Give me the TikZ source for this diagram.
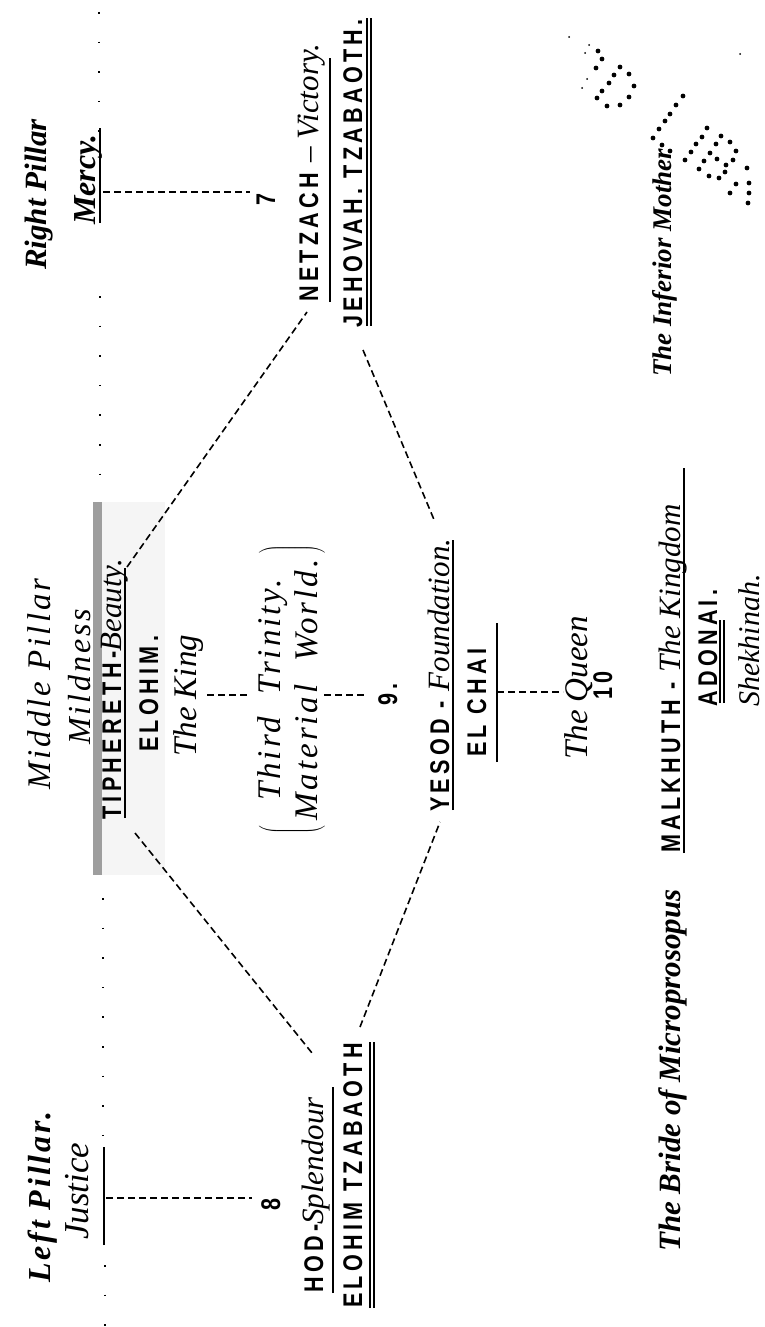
\documentclass[tikz,border=0pt]{standalone}
\usepackage{fontspec}
\setmainfont{Liberation Serif}
\newfontfamily\capsf[FakeStretch=0.8,LetterSpace=16]{Liberation Sans}
\newfontfamily\spacedrm[LetterSpace=9]{Liberation Serif}
\newcommand\scrit{\rmfamily\mdseries\itshape\fontsize{31}{31}\selectfont}
\usetikzlibrary{calc}
\begin{document}
\begin{tikzpicture}[x=1pt,y=-1pt,
  lbl/.style={rotate=90,inner sep=0pt,anchor=base west},
  capt/.style={lbl,font=\capsf\bfseries\fontsize{27}{27}\selectfont},
  itx/.style={lbl,font=\itshape\fontsize{33}{33}\selectfont},
  bitx/.style={lbl,font=\bfseries\itshape\fontsize{31}{31}\selectfont},
  dsh/.style={line width=1.6pt,dash pattern=on 7pt off 4pt},
  ulin/.style={line width=1.7pt},
  pil/.style={line width=1.6pt,dash pattern=on 1.6pt off 28pt}
]
\useasboundingbox (0,0) rectangle (765,1327);
\clip (0,0) rectangle (765,1327);
\fill[white] (0,0) rectangle (765,1327);

% pillar dotted lines
\draw[pil] (99,12) -- (99,140);
\draw[pil] (100,296) -- (100,490);
\draw[pil] (103,898) -- (103,1140);
\draw[pil] (105,1265) -- (105,1327);

% Tiphereth highlight
\fill[black!4] (93,502) rectangle (165,875);
\fill[black!38] (93,502) rectangle (102,875);

% headers
\node[bitx] (rp) at (46,270) {Right Pillar};
\node[bitx,font=\bfseries\itshape\fontsize{32}{32}\selectfont] (mercy) at (95,225) {Mercy.};
\draw[ulin] (100,223) -- (100,128);
\node[itx,font=\spacedrm\itshape\fontsize{33}{33}\selectfont] (mp) at (50,790) {Middle Pillar};
\node[itx,font=\spacedrm\itshape\fontsize{32}{32}\selectfont] (mild) at (90,745) {Mildness};
\node[bitx,font=\spacedrm\bfseries\itshape\fontsize{32}{32}\selectfont] (lp) at (50,1283) {Left Pillar.};
\node[itx,font=\itshape\fontsize{35}{35}\selectfont] (just) at (88,1240) {Justice};
\draw[ulin] (104,1245) -- (104,1147);

% numbers
\node[capt] (seven) at (275,206) {7};
\node[capt] (eight) at (280,1211) {8};
\node[capt] (nine) at (397,706) {9.};
\node[capt] (ten) at (612,700) {10};

% Netzach
\node[capt] (netz) at (318,302) {NETZACH {\scrit – Victory.}};
\draw[ulin] (330,302) -- (330,58);
\node[capt] (jeh) at (362,328) {JEHOVAH. TZABAOTH.};
\draw[ulin] (367,326) -- (367,18);
\draw[ulin] (371,326) -- (371,18);

% Tiphereth
\node[capt] (tiph) at (121,820) {TIPHERETH-{\scrit Beauty.}};
\draw[ulin] (125,818) -- (125,568);
\node[capt] (eloh) at (158,752) {ELOHIM.};
\node[itx] (king) at (196,757) {The King};

% third trinity
\node[rotate=90,inner sep=0pt,anchor=center,font=\spacedrm\itshape\fontsize{33}{33}\selectfont] (trin) at (292,690)
  {$\left(\begin{tabular}{@{\,}c@{\,}}\spacedrm\itshape Third\ \ Trinity.\\[4pt]\spacedrm\itshape Material\ \ World.\end{tabular}\right)$};

% Yesod
\node[capt] (yes) at (449,812) {YESOD - {\scrit Foundation.}};
\draw[ulin] (453,810) -- (453,540);
\node[capt] (elc) at (486,757) {EL CHAI};
\draw[ulin] (497,762) -- (497,623);
\node[itx] (queen) at (587,760) {The Queen};

% Hod
\node[capt] (hod) at (323,1293) {HOD-{\scrit Splendour}};
\draw[ulin] (333,1293) -- (333,1087);
\node[capt] (elz) at (362,1308) {ELOHIM TZABAOTH};
\draw[ulin] (370,1308) -- (370,1042);
\draw[ulin] (374,1308) -- (374,1042);

% Malkhuth
\node[capt] (malk) at (680,853) {MALKHUTH - {\scrit The Kingdom}};
\draw[ulin] (684,853) -- (684,468);
\node[capt] (ado) at (717,707) {ADONAI.};
\draw[ulin] (720,703) -- (720,620);
\draw[ulin] (724,703) -- (724,620);
\node[itx,font=\itshape\fontsize{30}{30}\selectfont] (shek) at (759,707) {Shekhinah.};
\node[bitx,font=\bfseries\itshape\fontsize{27}{27}\selectfont] (infm) at (671,377) {The Inferior Mother};
\node[bitx] (bride) at (680,1252) {The Bride of Microprosopus};

% connector end points
\coordinate (tiphA) at (127,567);  \coordinate (netzA) at (307,312);
\coordinate (tiphB) at (135,833);  \coordinate (hodA) at (312,1053);
\coordinate (netzB) at (363,350);  \coordinate (yesA) at (435,522);
\coordinate (hodB) at (360,1027);  \coordinate (yesB) at (440,822);
\coordinate (mercyE) at (103,192); \coordinate (sevenE) at (250,192);
\coordinate (justE) at (106,1198); \coordinate (eightE) at (252,1198);
\coordinate (kingE) at (207,695);  \coordinate (trinA) at (248,695);
\coordinate (trinB) at (324,695);  \coordinate (nineE) at (364,695);
\coordinate (elcE) at (497,692);   \coordinate (queenE) at (563,692);

\draw[dsh] (tiphA) -- (netzA);
\draw[dsh] (tiphB) -- (hodA);
\draw[dsh] (netzB) -- (yesA);
\draw[dsh] (hodB) -- (yesB);
\draw[dsh] (mercyE) -- (sevenE);
\draw[dsh] (justE) -- (eightE);
\draw[dsh] (kingE) -- (trinA);
\draw[dsh] (trinB) -- (nineE);
\draw[dsh] (elcE) -- (queenE);

% stipple clusters
\foreach \p in {(598,51),(602,59),(596,68),(620,67),(614,75),(629,74),(609,83),(634,86),(602,91),(597,98),(629,97),(607,106),(620,105)}
  \fill \p circle (2.4pt);
\foreach \p in {(683,96),(676,105),(670,114),(665,121),(659,129),(653,138),(662,145),(670,151),
  (707,128),(702,137),(721,136),(696,144),(716,144),(730,142),(691,152),(710,153),(736,151),
  (685,160),(704,161),(717,159),(726,165),(733,160),(699,169),(709,176),(719,178),(725,172),
  (747,168),(749,183),(736,184),(730,193),(749,193),(748,203)}
  \fill \p circle (2.4pt);
\foreach \p in {(569,37),(589,45),(585,53),(587,79),(582,88),(740,54),(668,162)}
  \fill \p circle (1pt);
\end{tikzpicture}
\end{document}
